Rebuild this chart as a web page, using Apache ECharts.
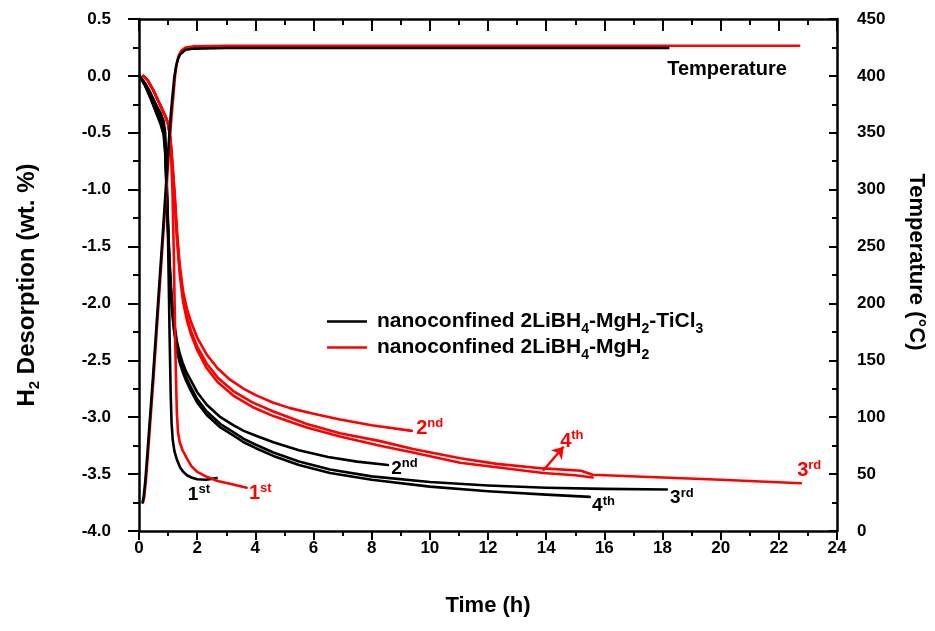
<!DOCTYPE html>
<html>
<head>
<meta charset="utf-8">
<script src="https://cdn.jsdelivr.net/npm/echarts@6/dist/echarts.min.js"></script>
<style>
  html, body { margin: 0; padding: 0; background: #fff; }
  #chart { width: 935px; height: 631px; }
</style>
</head>
<body>
<div id="chart"></div>
<script>
// desorption curves, [time (h), wt. %]
const tiCl3Cycle1 = [[0.02, 0], [0.2, -0.06], [0.4, -0.15], [0.6, -0.26], [0.75, -0.33], [0.85, -0.4], [0.9, -0.5], [0.95, -0.85], [1.0, -1.45], [1.05, -2.25], [1.09, -2.8], [1.12, -3.05], [1.16, -3.2], [1.22, -3.3], [1.3, -3.37], [1.41, -3.44], [1.52, -3.48], [1.65, -3.51], [1.8, -3.53], [2.0, -3.545], [2.3, -3.55], [2.67, -3.535]];
const tiCl3Cycle2 = [[0.02, 0], [0.2, -0.07], [0.4, -0.17], [0.6, -0.29], [0.75, -0.37], [0.85, -0.45], [0.9, -0.6], [0.95, -0.95], [1.0, -1.3], [1.05, -1.62], [1.1, -1.85], [1.15, -2.02], [1.2, -2.15], [1.3, -2.33], [1.4, -2.44], [1.5, -2.52], [1.62, -2.6], [1.75, -2.66], [2.0, -2.78], [2.33, -2.89], [2.8, -3.0], [3.24, -3.07], [3.6, -3.12], [4.0, -3.16], [4.62, -3.22], [5.5, -3.29], [6.5, -3.35], [7.5, -3.39], [8.56, -3.42]];
const tiCl3Cycle3 = [[0.02, 0], [0.2, -0.08], [0.4, -0.19], [0.6, -0.32], [0.75, -0.41], [0.85, -0.5], [0.9, -0.65], [0.95, -1.0], [1.0, -1.35], [1.05, -1.67], [1.1, -1.9], [1.15, -2.07], [1.2, -2.2], [1.3, -2.38], [1.4, -2.49], [1.5, -2.57], [1.62, -2.65], [1.75, -2.72], [2.0, -2.84], [2.33, -2.95], [2.8, -3.06], [3.24, -3.13], [3.6, -3.19], [4.0, -3.24], [4.62, -3.31], [5.5, -3.39], [6.57, -3.46], [8.0, -3.52], [10.0, -3.57], [12.0, -3.6], [14.0, -3.62], [16.0, -3.63], [18.15, -3.635]];
const tiCl3Cycle4 = [[0.02, 0], [0.2, -0.08], [0.4, -0.2], [0.6, -0.33], [0.75, -0.43], [0.85, -0.52], [0.9, -0.68], [0.95, -1.02], [1.0, -1.38], [1.05, -1.7], [1.1, -1.93], [1.15, -2.1], [1.2, -2.23], [1.3, -2.41], [1.4, -2.52], [1.5, -2.6], [1.62, -2.68], [1.75, -2.75], [2.0, -2.87], [2.33, -2.98], [2.8, -3.09], [3.24, -3.16], [3.6, -3.22], [4.0, -3.27], [4.62, -3.34], [5.5, -3.42], [6.57, -3.49], [8.0, -3.55], [10.0, -3.61], [12.0, -3.65], [14.0, -3.68], [15.5, -3.7]];

const plainCycle1 = [[0.15, 0], [0.3, -0.04], [0.5, -0.13], [0.7, -0.24], [0.9, -0.35], [1.0, -0.42], [1.05, -0.5], [1.1, -0.68], [1.15, -1.0], [1.2, -1.6], [1.25, -2.4], [1.3, -2.95], [1.34, -3.13], [1.4, -3.22], [1.5, -3.29], [1.64, -3.36], [1.8, -3.43], [2.0, -3.48], [2.3, -3.52], [2.7, -3.56], [3.2, -3.59], [3.7, -3.62]];
const plainCycle2 = [[0.15, 0], [0.3, -0.04], [0.5, -0.13], [0.7, -0.24], [0.9, -0.35], [1.0, -0.42], [1.05, -0.5], [1.1, -0.6], [1.17, -0.83], [1.24, -1.08], [1.3, -1.34], [1.4, -1.66], [1.52, -1.9], [1.65, -2.05], [1.8, -2.17], [2.0, -2.3], [2.33, -2.45], [2.7, -2.57], [3.13, -2.67], [3.6, -2.75], [4.05, -2.81], [4.6, -2.87], [5.19, -2.92], [6.0, -2.97], [6.91, -3.02], [8.0, -3.07], [9.38, -3.12]];
const plainCycle3 = [[0.15, 0], [0.3, -0.04], [0.5, -0.13], [0.7, -0.24], [0.9, -0.35], [1.0, -0.42], [1.05, -0.5], [1.1, -0.62], [1.17, -0.86], [1.24, -1.12], [1.3, -1.38], [1.4, -1.71], [1.52, -1.96], [1.65, -2.12], [1.8, -2.25], [2.0, -2.38], [2.33, -2.53], [2.7, -2.65], [3.24, -2.77], [3.9, -2.87], [4.62, -2.95], [5.77, -3.06], [6.91, -3.14], [8.29, -3.21], [9.42, -3.28], [11.04, -3.36], [12.3, -3.41], [13.9, -3.45], [15.2, -3.47], [15.6, -3.505], [16.0, -3.51], [18.0, -3.53], [20.0, -3.55], [22.76, -3.58]];
const plainCycle4 = [[0.15, 0], [0.3, -0.04], [0.5, -0.13], [0.7, -0.24], [0.9, -0.35], [1.0, -0.42], [1.05, -0.5], [1.1, -0.63], [1.17, -0.88], [1.24, -1.15], [1.3, -1.41], [1.4, -1.74], [1.52, -1.99], [1.65, -2.15], [1.8, -2.28], [2.0, -2.41], [2.33, -2.57], [2.7, -2.69], [3.24, -2.81], [3.9, -2.91], [4.62, -2.99], [5.77, -3.09], [6.91, -3.17], [8.29, -3.25], [9.42, -3.31], [11.04, -3.4], [12.3, -3.44], [13.9, -3.49], [15.0, -3.51], [15.6, -3.53]];

// temperature, [time (h), degC]
const tempPlain = [[0.14, 25], [0.18, 30], [0.24, 45], [0.3, 65], [0.5, 135], [0.66, 195], [0.9, 285], [1.05, 340], [1.12, 365], [1.18, 382], [1.24, 400], [1.3, 411], [1.37, 418], [1.45, 422], [1.6, 425], [1.9, 426], [3.0, 426.5], [10.0, 426.5], [22.7, 426.5]];
const tempTiCl3 = [[0.12, 25], [0.16, 30], [0.22, 45], [0.28, 65], [0.48, 135], [0.64, 195], [0.88, 285], [1.02, 340], [1.09, 365], [1.15, 382], [1.21, 398], [1.27, 408], [1.34, 415], [1.42, 419], [1.6, 423], [1.9, 424], [3.0, 424.5], [10.0, 424.5], [18.2, 424.5]];

// cycle labels, [time, wt. %, number, suffix]
const tiCl3Labels = [[1.68, -3.68, '1', 'st'], [8.67, -3.45, '2', 'nd'], [18.26, -3.71, '3', 'rd'], [15.58, -3.78, '4', 'th']];
const plainLabels = [[3.78, -3.67, '1', 'st'], [9.53, -3.1, '2', 'nd'], [22.63, -3.47, '3', 'rd'], [14.48, -3.21, '4', 'th']];
const tempNote = [[18.16, 0.06, 'Temperature']];
const arrow4th = [[13.89, -3.47], [14.6, -3.26]];

const xTicks = { min: 0, max: 24, step: 2 };
const leftTicks = { min: -4, max: 0.5, step: 0.5 };
const rightTicks = { min: 0, max: 450, step: 50 };

const NAME_TI = 'TiCl3';
const NAME_PLAIN = 'plain';
const FONT = '"Liberation Sans", Arial, sans-serif';
const BLACK = '#000';
const RED = '#ff0000';

const chart = echarts.init(document.getElementById('chart'));

function curve(name, data, color, yIndex) {
  return {
    name, type: 'line', data, yAxisIndex: yIndex || 0,
    showSymbol: false, symbol: 'none', smooth: false,
    lineStyle: { color, width: 2.6, join: 'round', cap: 'round' },
    itemStyle: { color },
    emphasis: { disabled: true }, silent: true
  };
}

function labelSeries(items, color, size) {
  return {
    type: 'scatter', symbolSize: 0, silent: true,
    itemStyle: { opacity: 1, color },
    data: items.map(d => ({ value: [d[0], d[1]], main: d[2], sup: d[3] })),
    label: {
      show: true, position: 'right', distance: 0, opacity: 1,
      formatter: p => '{m|' + p.data.main + '}{s|' + p.data.sup + '}',
      rich: {
        m: { fontFamily: FONT, fontWeight: 'bold', fontSize: size, color, lineHeight: size + 4 },
        s: { fontFamily: FONT, fontWeight: 'bold', fontSize: 13, color, verticalAlign: 'top', lineHeight: 12 }
      }
    }
  };
}

const legendText = {
  [NAME_TI]: '{m|nanoconfined 2LiBH}{s|4}{m|-MgH}{s|2}{m|-TiCl}{s|3}',
  [NAME_PLAIN]: '{m|nanoconfined 2LiBH}{s|4}{m|-MgH}{s|2}'
};

const tickFont = { fontFamily: FONT, fontWeight: 'bold', fontSize: 17, color: BLACK };
const axisLine = { show: true, onZero: false, lineStyle: { color: BLACK, width: 2.5 } };

const plainArrowSeries = labelSeries(plainLabels, RED, 20);
plainArrowSeries.markLine = {
  silent: true, symbol: ['none', 'arrow'], symbolSize: 11,
  label: { show: false },
  lineStyle: { color: RED, width: 2.5, type: 'solid' },
  data: [[{ coord: arrow4th[0] }, { coord: arrow4th[1] }]]
};

const option = {
  animation: false,
  backgroundColor: '#fff',
  grid: { left: 139, right: 98, top: 19, bottom: 100 },
  legend: {
    data: [NAME_TI, NAME_PLAIN],
    orient: 'vertical', left: 322, top: 306,
    icon: 'rect', itemWidth: 40, itemHeight: 2.5, itemGap: 1,
    selectedMode: false,
    formatter: n => legendText[n],
    textStyle: {
      padding: [0, 0, 0, 5],
      rich: {
        m: { fontFamily: FONT, fontWeight: 'bold', fontSize: 21, color: BLACK, lineHeight: 29 },
        s: { fontFamily: FONT, fontWeight: 'bold', fontSize: 14, color: BLACK, verticalAlign: 'bottom', lineHeight: 14 }
      }
    }
  },
  xAxis: [{
    type: 'value', position: 'bottom', min: xTicks.min, max: xTicks.max, interval: xTicks.step,
    name: 'Time (h)', nameLocation: 'middle', nameGap: 64,
    nameTextStyle: { fontFamily: FONT, fontWeight: 'bold', fontSize: 22, color: BLACK },
    axisLine, splitLine: { show: false },
    axisTick: { length: 9, lineStyle: { width: 2, color: BLACK } },
    minorTick: { show: true, splitNumber: 2, length: 5, lineStyle: { width: 2, color: BLACK } },
    axisLabel: Object.assign({ margin: 9 }, tickFont)
  }, {
    type: 'value', position: 'top', min: xTicks.min, max: xTicks.max, interval: xTicks.step,
    axisLine, splitLine: { show: false },
    axisTick: { inside: true, length: 12, lineStyle: { width: 2, color: BLACK } },
    minorTick: { show: true, splitNumber: 2, length: 6, lineStyle: { width: 2, color: BLACK } },
    axisLabel: { show: false }
  }],
  yAxis: [{
    type: 'value', position: 'left', min: leftTicks.min, max: leftTicks.max, interval: leftTicks.step,
    name: '{m|H}{s|2}{m| Desorption (wt. %)}', nameLocation: 'middle', nameGap: 97, nameRotate: 90,
    nameTextStyle: {
      padding: [0, 20, 0, 0],
      rich: {
        m: { fontFamily: FONT, fontWeight: 'bold', fontSize: 24, color: BLACK, lineHeight: 30 },
        s: { fontFamily: FONT, fontWeight: 'bold', fontSize: 15, color: BLACK, verticalAlign: 'bottom', lineHeight: 15 }
      }
    },
    axisLine, splitLine: { show: false },
    axisTick: { length: 11, lineStyle: { width: 2, color: BLACK } },
    minorTick: { show: true, splitNumber: 2, length: 6, lineStyle: { width: 2, color: BLACK } },
    axisLabel: Object.assign({ margin: 28, formatter: v => v.toFixed(1) }, tickFont)
  }, {
    type: 'value', position: 'right', min: rightTicks.min, max: rightTicks.max, interval: rightTicks.step,
    name: 'Temperature (°C)', nameLocation: 'middle', nameGap: 68, nameRotate: -90,
    nameTextStyle: { fontFamily: FONT, fontWeight: 'bold', fontSize: 22, color: BLACK, padding: [0, 26, 0, 0] },
    axisLine, splitLine: { show: false },
    axisTick: { inside: true, length: 8, lineStyle: { width: 2, color: BLACK } },
    minorTick: { show: true, splitNumber: 2, length: 5, lineStyle: { width: 2, color: BLACK } },
    axisLabel: Object.assign({ margin: 20 }, tickFont)
  }],
  series: [
    curve(NAME_TI, tiCl3Cycle1, BLACK),
    curve(NAME_TI, tiCl3Cycle2, BLACK),
    curve(NAME_TI, tiCl3Cycle3, BLACK),
    curve(NAME_TI, tiCl3Cycle4, BLACK),
    curve(NAME_PLAIN, plainCycle1, RED),
    curve(NAME_PLAIN, plainCycle2, RED),
    curve(NAME_PLAIN, plainCycle3, RED),
    curve(NAME_PLAIN, plainCycle4, RED),
    curve(NAME_PLAIN, tempPlain, RED, 1),
    curve(NAME_TI, tempTiCl3, BLACK, 1),
    labelSeries(tiCl3Labels, BLACK, 19),
    plainArrowSeries,
    {
      type: 'scatter', symbolSize: 0, silent: true,
      itemStyle: { opacity: 1, color: BLACK },
      data: tempNote.map(d => ({ value: [d[0], d[1]], note: d[2] })),
      label: {
        show: true, position: 'right', distance: 0, opacity: 1,
        formatter: p => p.data.note,
        fontFamily: FONT, fontWeight: 'bold', fontSize: 20, color: BLACK
      }
    }
  ]
};

chart.setOption(option);
window.addEventListener('resize', () => chart.resize());
</script>
</body>
</html>
